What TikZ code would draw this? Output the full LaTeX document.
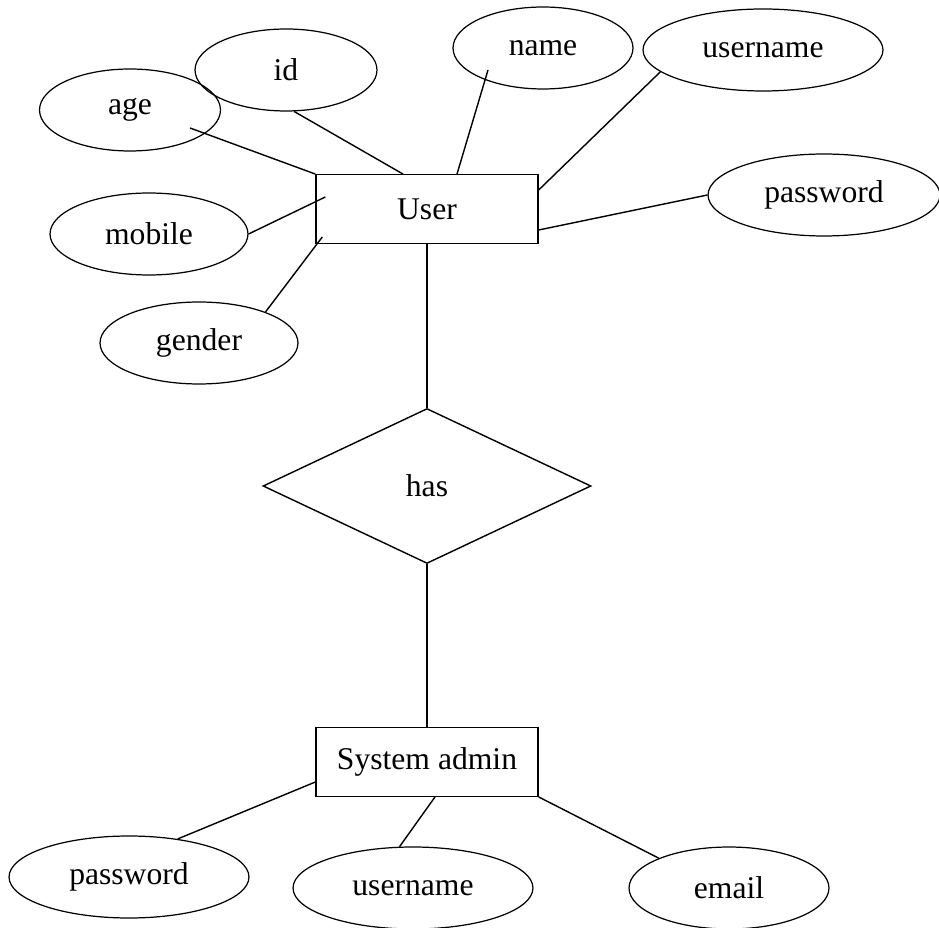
\documentclass[tikz,border=0pt]{standalone}
\usepackage{fontspec}
\setmainfont{Liberation Serif}
\usepackage{tikz}
\usetikzlibrary{shapes,arrows,calc}

\begin{document}
\begin{tikzpicture}[x=0.02cm, y=-0.02cm, font=\fontsize{18pt}{20pt}\selectfont]
\tikzstyle{entity}=[draw, line width=0.8pt, inner sep=0pt, minimum width=4.44cm, minimum height=1.37cm]
\tikzstyle{attrib}=[draw, ellipse, line width=0.7pt, inner sep=0pt, minimum height=1.64cm]
\tikzstyle{relation}=[draw, diamond, line width=0.8pt, inner sep=0pt, minimum width=6.56cm, minimum height=3.1cm]
\tikzstyle{link}=[draw, line width=0.8pt]
\useasboundingbox (0,0) rectangle (939,928);
\node[entity] (user) at (427,209) {User};
\node[relation] (has) at (427,486) {has};
\node[entity] (admin) at (427,762) {System admin};
% user attributes
\node[attrib, minimum width=3.62cm] (age) at (130,110) {age};
\node[attrib, minimum width=3.64cm] (id) at (286,70) {id};
\node[attrib, minimum width=3.6cm] (name) at (543,48) {name};
\node[attrib, minimum width=4.8cm] (uname) at (763,50) {username};
\node[attrib, minimum width=4.64cm] (pwd) at (824,195) {password};
\node[attrib, minimum width=3.96cm] (mobile) at (149,234) {mobile};
\node[attrib, minimum width=3.96cm] (gender) at (199,343) {gender};
% admin attributes
\node[attrib, minimum width=4.8cm] (apwd) at (129,877) {password};
\node[attrib, minimum width=4.8cm] (auname) at (413,888) {username};
\node[attrib, minimum width=4cm] (email) at (729,888) {email};
\path[link] ($(age)+(60,18)$) -- (user.north west);
\path[link] (id.-79) -- ($(user.north)+(-24,0)$);
\path[link] ($(name)+(-55,22)$) -- ($(user.north)+(30,0)$);
\path[link] (uname.192) -- ($(user.east)+(0,-19)$);
\path[link] (pwd.west) -- ($(user.east)+(0,21)$);
\path[link] (mobile.east) -- ($(user.west)+(10,-12)$);
\path[link] (gender.25) -- ($(user.south west)+(7,-7)$);
\path[link] (user.south) -- (has.north);
\path[link] (has.south) -- (admin.north);
\path[link] (apwd.38) -- ($(admin.west)+(0,20)$);
\path[link] (auname.108) -- ($(admin.south)+(8,0)$);
\path[link] (email.157) -- (admin.south east);
\end{tikzpicture}
\end{document}
